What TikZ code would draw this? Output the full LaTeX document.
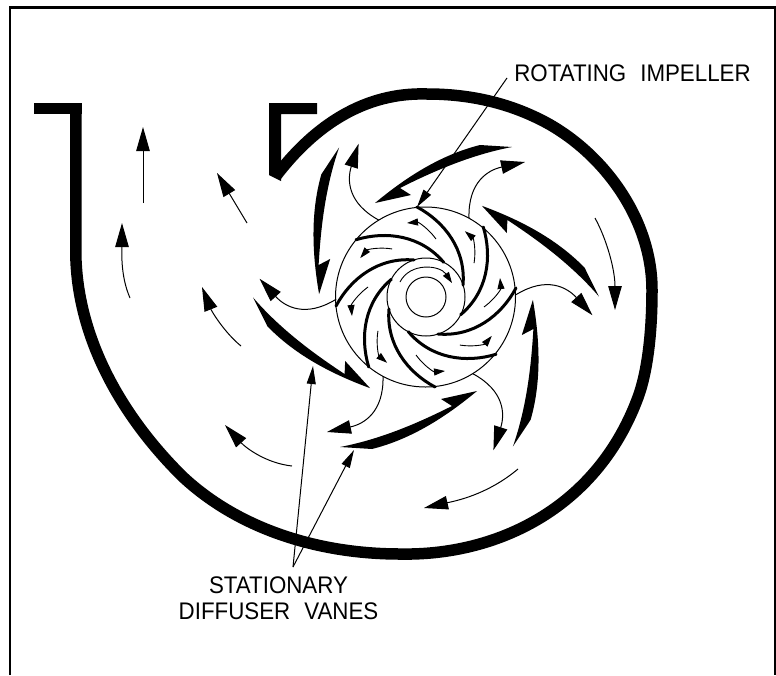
\documentclass[tikz,border=0pt]{standalone}
\usepackage{fontspec}
\newfontfamily\labelfont[FakeStretch=0.93]{Liberation Sans}
\usetikzlibrary{arrows.meta,positioning}
\definecolor{InkClr}{RGB}{0,0,0}
\tikzset{
  FrameLine/.style={line width=2.2pt,color=InkClr},
  CasingLine/.style={line width=11.5pt,color=InkClr},
  HubLine/.style={line width=1pt,color=InkClr},
  BladeLine/.style={line width=3pt,color=InkClr,line cap=round},
  VaneFill/.style={fill=InkClr},
  FlowArrow/.style={line width=1pt,color=InkClr,-{Triangle[length=24pt,width=13.5pt]}},
  SmallArrow/.style={line width=.9pt,color=InkClr,-{Triangle[length=11pt,width=7pt]}},
  LeaderArrow/.style={line width=1pt,color=InkClr,-{Triangle[length=18pt,width=9pt]}},
  CallOut/.style={inner sep=0pt,outer sep=0pt,font=\labelfont\fontsize{24}{24}\selectfont,text=InkClr}
}

\begin{document}
\begin{tikzpicture}[x=1pt,y=-1pt]
\useasboundingbox (0,0) rectangle (776,675);

\draw[FrameLine] (10,675) -- (10,7.5) -- (775,7.5) -- (775,675);

% casing
\fill[InkClr] (34,103) -- (81.5,103) -- (81.5,114) -- (34,114) -- cycle;
\fill[InkClr] (269,103) -- (317,103) -- (317,114) -- (281,114) -- (281,181) -- (269,175) -- cycle;
\draw[CasingLine] (75.75,103) -- (75.75,250)
  .. controls (75.75,340) and (125,420) .. (183,477)
  .. controls (240,530) and (320,554) .. (400,554)
  .. controls (495,556) and (595,510) .. (637,400)
  .. controls (648,372) and (652,330) .. (652,290)
  .. controls (652,220) and (605,155) .. (547,123)
  .. controls (510,103) and (470,94) .. (427,94)
  .. controls (365,92) and (315,125) .. (276,176);

% hub
\draw[HubLine] (425.5,297) circle[radius=90];
\draw[HubLine] (426,297) circle[radius=39];
\draw[HubLine] (426,297) circle[radius=20];
\draw[SmallArrow] (400,282) .. controls (410,262) and (440,265) .. (452,283);

% blades
\foreach \ang in {0,45,...,315}{
  \begin{scope}[rotate around={\ang:(426,297)}]
    \draw[BladeLine] (417,207) .. controls (445,222) and (466,250) .. (463,285);
    \draw[SmallArrow] (436,239) .. controls (428,228) and (418,222) .. (407,223);
  \end{scope}
}

% diffuser vanes
\foreach \ang in {0,60,...,300}{
  \begin{scope}[rotate around={\ang:(426,297)}]
    \fill[VaneFill] (375,203) .. controls (405,178) and (440,155) .. (480,145) -- (512,147)
      .. controls (470,155) and (432,172) .. (400,188) -- (411,195) -- cycle;
    \draw[FlowArrow] (469,218) .. controls (468,182) and (488,170) .. (525,162);
  \end{scope}
}

% flow through the volute
\draw[FlowArrow] (595,218) .. controls (607,240) and (615,270) .. (615,310);
\draw[FlowArrow] (518,469) .. controls (487,495) and (455,501) .. (424,508);
\draw[FlowArrow] (292,466) .. controls (265,463) and (245,447) .. (225,425);
\draw[FlowArrow] (241,346) .. controls (225,333) and (212,312) .. (202,287);
\draw[FlowArrow] (247,223) -- (217,173);
\draw[FlowArrow] (143,203) -- (143,127);
\draw[FlowArrow] (130,298) .. controls (120,275) and (122,250) .. (122,223);

% labels
\node[CallOut] (ImpellerTxt) at (632.5,73.5) {ROTATING\hspace{14pt}IMPELLER};
\node[CallOut] (StationaryTxt) at (278.5,585.5) {STATIONARY};
\node[CallOut,below=8.5pt of StationaryTxt] (DiffuserTxt) {DIFFUSER\hspace{14pt}VANES};

\coordinate (ImpellerEnd) at (507,78);
\coordinate (ImpellerTip) at (417,207);
\coordinate (VanesEnd) at (293,567);
\coordinate (VaneTipA) at (313,366);
\coordinate (VaneTipB) at (354,450);
\draw[LeaderArrow] (ImpellerEnd) -- (ImpellerTip);
\draw[LeaderArrow] (VanesEnd) -- (VaneTipA);
\draw[LeaderArrow] (VanesEnd) -- (VaneTipB);

\end{tikzpicture}
\end{document}
